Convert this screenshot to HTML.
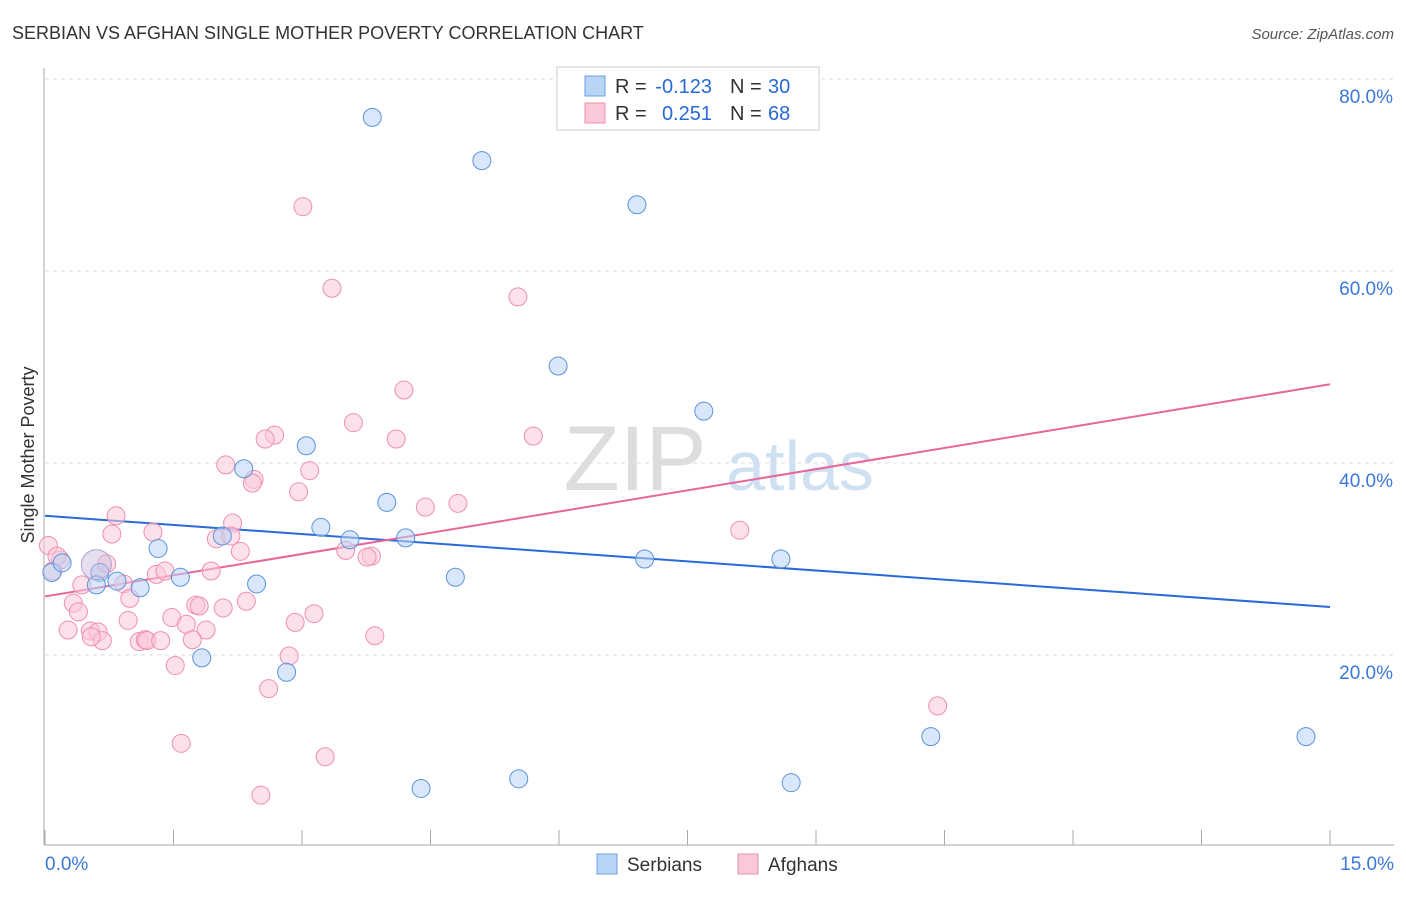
<!DOCTYPE html>
<html><head><meta charset="utf-8"><style>
body{margin:0;background:#fff;font-family:"Liberation Sans",sans-serif}
svg text{font-family:"Liberation Sans",sans-serif}
</style></head><body>
<svg id="chart" width="1406" height="892">
<text x="12" y="39" font-size="18" fill="#333">SERBIAN VS AFGHAN SINGLE MOTHER POVERTY CORRELATION CHART</text>
<text x="1394" y="39" font-size="15" font-style="italic" fill="#555" text-anchor="end">Source: ZipAtlas.com</text>
<g><text x="635" y="490" font-size="92" font-family="Liberation Serif" fill="#ddd" text-anchor="middle">ZIP</text><text x="800" y="490" font-size="70" fill="#cfe0f3" text-anchor="middle">atlas</text></g>
<g id="grid"></g><g id="axes"></g>
<text transform="translate(34,455) rotate(-90)" font-size="18" fill="#333" text-anchor="middle">Single Mother Poverty</text>
<g id="lines"></g><g id="pts"></g>
<g>
<rect x="557" y="67" width="262" height="63" fill="#fff" stroke="#ccc"/>
<rect x="585" y="76" width="20" height="20" fill="#b8d4f5" stroke="#6a9fe0"/>
<rect x="585" y="103" width="20" height="20" fill="#fbc8d8" stroke="#ee8fae"/>
<text x="615" y="93" font-size="20" fill="#333">R =</text>
<text x="712" y="93" font-size="20" fill="#2a6ad6" text-anchor="end">-0.123</text>
<text x="730" y="93" font-size="20" fill="#333">N =</text>
<text x="768" y="93" font-size="20" fill="#2a6ad6">30</text>
<text x="615" y="120" font-size="20" fill="#333">R =</text>
<text x="712" y="120" font-size="20" fill="#2a6ad6" text-anchor="end">0.251</text>
<text x="730" y="120" font-size="20" fill="#333">N =</text>
<text x="768" y="120" font-size="20" fill="#2a6ad6">68</text>
</g>
<g>
<rect x="597" y="854" width="20" height="20" fill="#b8d4f5" stroke="#6a9fe0"/>
<text x="627" y="871" font-size="19" fill="#333">Serbians</text>
<rect x="738" y="854" width="20" height="20" fill="#fbc8d8" stroke="#ee8fae"/>
<text x="768" y="871" font-size="19" fill="#333">Afghans</text>
</g>
</svg>
<script>
const xTicks=[0,1.5,3,4.5,6,7.5,9,10.5,12,13.5,15];
const yTicks=[20,40,60,80];
const yTickLabels=["20.0%","40.0%","60.0%","80.0%"];
const xEndLabels=["0.0%","15.0%"];
const serbX=[3.82,5.10,6.91,5.99,7.69,3.05,2.32,3.99,3.22,3.56,4.21,2.07,1.32,7.00,8.59,0.64,0.08,0.60,0.84,1.11,1.58,2.47,4.79,1.83,2.82,10.34,14.72,5.53,4.39,8.71,0.20];
const serbY=[76.0,71.5,66.9,50.1,45.4,41.8,39.4,35.9,33.3,32.0,32.2,32.4,31.1,30.0,30.0,28.6,28.6,27.3,27.7,27.0,28.1,27.4,28.1,19.7,18.2,11.5,11.5,7.1,6.1,6.7,29.6];
const afgX=[3.01,3.35,5.52,4.19,3.60,4.10,5.70,2.68,2.57,2.11,3.09,2.44,2.42,2.96,4.82,4.44,0.83,2.19,1.26,0.78,2.00,2.17,2.28,3.51,3.81,3.76,8.11,0.04,0.18,0.09,0.72,1.30,1.40,1.94,0.43,0.92,0.99,0.33,0.39,2.35,1.76,1.80,2.08,3.14,0.97,1.48,2.92,1.65,1.88,0.27,0.53,0.62,0.67,0.54,1.10,1.17,1.19,1.35,1.72,3.85,2.85,1.52,2.61,10.42,1.59,3.27,2.52,0.14];
const afgY=[66.7,58.2,57.3,47.6,44.2,42.5,42.8,42.9,42.5,39.8,39.2,38.3,37.9,37.0,35.8,35.4,34.5,33.75,32.8,32.6,32.1,32.4,30.8,30.9,30.3,30.2,33.0,31.4,29.9,28.75,29.5,28.4,28.75,28.75,27.3,27.4,25.9,25.4,24.5,25.6,25.2,25.1,24.9,24.3,23.6,23.9,23.4,23.2,22.6,22.6,22.5,22.4,21.5,21.9,21.4,21.6,21.5,21.5,21.6,22.0,19.9,18.9,16.5,14.7,10.8,9.4,5.4,30.3];
const serbTrend=[34.5,25.0];
const afgTrend=[26.1,48.2];
const NS="http://www.w3.org/2000/svg";
const X=v=>45+v/15*1285, Y=v=>847-v*9.6;
function mk(p,t,a){const e=document.createElementNS(NS,t);for(const k in a)e.setAttribute(k,a[k]);p.appendChild(e);return e;}
const grid=document.getElementById('grid'),axes=document.getElementById('axes');
yTicks.forEach((t,i)=>{
 const l=mk(grid,'line',{x1:45,x2:1394,y1:Y(t),y2:Y(t),stroke:'#ddd','stroke-dasharray':'4,4'});
 
 
 const tx=mk(grid,'text',{x:1393,y:Y(t)+24,'font-size':19,fill:'#3b78d8','text-anchor':'end'});tx.textContent=yTickLabels[i];
 
 
});
mk(axes,'line',{x1:44,x2:44,y1:68,y2:845,stroke:'#aaa'});
mk(axes,'line',{x1:44,x2:1394,y1:845,y2:845,stroke:'#aaa'});
xTicks.forEach(t=>{
 const l=mk(axes,'line',{x1:X(t),x2:X(t),y1:830,y2:845,stroke:'#aaa'});
 
 
});
[[0,'start',45],[15,'end',1394]].forEach((d,i)=>{
 const tx=mk(axes,'text',{x:d[2],y:870,'font-size':19,fill:'#3b78d8','text-anchor':d[1]});tx.textContent=xEndLabels[i];
 
 
});
const pts=document.getElementById('pts');
function dots(xs,ys,fill,stroke,name){xs.forEach((x,i)=>{
 const c=mk(pts,'circle',{cx:X(x),cy:Y(ys[i]),r:9,fill:fill,'fill-opacity':0.55,stroke:stroke,'stroke-width':1});
 
 
});}
dots(afgX,afgY,'#fbc8d8','#ee8fae','afghan-point');
dots(serbX,serbY,'#b8d4f5','#5b92dc','serbian-point');
const big=mk(pts,'circle',{cx:X(0.6),cy:Y(29.4),r:15,fill:'#c9b8dc','fill-opacity':0.45,stroke:'#a99fd8'});


const lines=document.getElementById('lines');
const l1=mk(lines,'line',{x1:X(0),x2:X(15),y1:Y(serbTrend[0]),y2:Y(serbTrend[1]),stroke:'#2a6ad6','stroke-width':2});


const l2=mk(lines,'line',{x1:X(0),x2:X(15),y1:Y(afgTrend[0]),y2:Y(afgTrend[1]),stroke:'#e8679a','stroke-width':2});


</script>
</body></html>
